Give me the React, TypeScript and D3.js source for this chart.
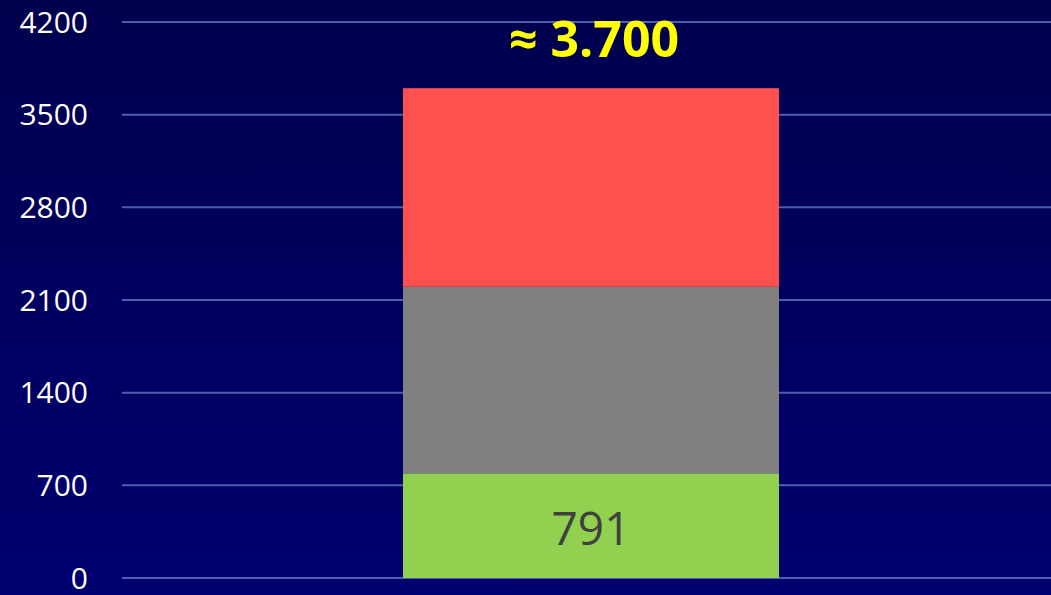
import React, { useEffect, useRef } from "react";
import * as d3 from "d3";

// stacked bar values (bottom to top)
const segmentNames = ["green", "gray", "red"];
const segmentValues = [791, 1409, 1500];
const segmentColors = ["#92d050", "#808080", "#ff5050"];
const yTicks = [0, 700, 1400, 2100, 2800, 3500, 4200];
const categories = ["Total"];
const totalLabel = "≈ 3.700";

export default function App() {
  const ref = useRef<SVGSVGElement>(null);

  useEffect(() => {
    const width = 1051;
    const height = 595;
    const svg = d3.select(ref.current);
    svg.selectAll("*").remove();
    svg.attr("viewBox", [0, 0, width, height]);

    const defs = svg.append("defs");
    const grad = defs
      .append("linearGradient")
      .attr("id", "bg")
      .attr("x1", 0)
      .attr("y1", 0)
      .attr("x2", 0)
      .attr("y2", 1);
    grad.append("stop").attr("offset", "0%").attr("stop-color", "#00004e");
    grad.append("stop").attr("offset", "100%").attr("stop-color", "#000070");

    svg
      .append("rect")
      .attr("width", width)
      .attr("height", height)
      .attr("fill", "url(#bg)");

    const y = d3.scaleLinear().domain([0, 4200]).range([578, 22]);
    const x = d3
      .scaleBand()
      .domain(categories)
      .range([215, 967])
      .padding(1 / 3);

    // gridlines
    svg
      .append("g")
      .selectAll("line")
      .data(yTicks)
      .join("line")
      .attr("x1", 122)
      .attr("x2", width)
      .attr("y1", (d) => y(d))
      .attr("y2", (d) => y(d))
      .attr("stroke", "#4a5fae")
      .attr("stroke-width", 2);

    // tick labels
    svg
      .append("g")
      .selectAll("text")
      .data(yTicks)
      .join("text")
      .attr("x", 88)
      .attr("y", (d) => y(d))
      .attr("dy", "0.36em")
      .attr("text-anchor", "end")
      .attr("fill", "#ffffff")
      .style("font-family", "'Open Sans', 'Noto Sans', sans-serif")
      .style("font-size", "30px")
      .text((d) => d);

    // stack
    const row: any = { cat: categories[0] };
    segmentNames.forEach((n, i) => (row[n] = segmentValues[i]));
    const series = d3.stack().keys(segmentNames)([row]);

    svg
      .append("g")
      .selectAll("rect")
      .data(series)
      .join("rect")
      .attr("x", x(categories[0])!)
      .attr("width", x.bandwidth())
      .attr("y", (s) => y(s[0][1]))
      .attr("height", (s) => y(s[0][0]) - y(s[0][1]))
      .attr("fill", (_, i) => segmentColors[i]);

    const cx = x(categories[0])! + x.bandwidth() / 2;

    // value label inside green segment
    svg
      .append("text")
      .attr("x", cx)
      .attr("y", y(segmentValues[0] / 2))
      .attr("dy", "0.42em")
      .attr("text-anchor", "middle")
      .attr("fill", "#404040")
      .style("font-family", "'Open Sans', 'Noto Sans', sans-serif")
      .style("font-size", "46px")
      .text(segmentValues[0]);

    const total = d3.sum(segmentValues);
    svg
      .append("text")
      .attr("x", cx + 3)
      .attr("y", y(total) - 31)
      .attr("text-anchor", "middle")
      .attr("fill", "#ffff00")
      .style("font-family", "'Open Sans', 'Noto Sans', sans-serif")
      .style("font-weight", "bold")
      .style("font-size", "50px")
      .text(totalLabel);
  }, []);

  return (
    <svg
      ref={ref}
      width={1051}
      height={595}
      style={{ position: "absolute", left: 0, top: 0, display: "block" }}
    ></svg>
  );
}
